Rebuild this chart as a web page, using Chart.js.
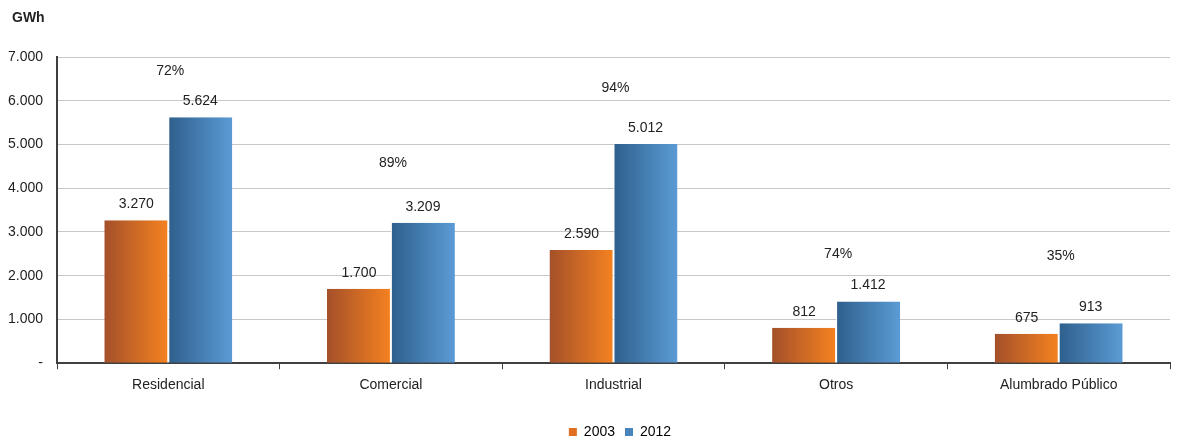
<!DOCTYPE html>
<html>
<head>
<meta charset="utf-8">
<script src="https://cdn.jsdelivr.net/npm/chart.js@4.4.1/dist/chart.umd.min.js"></script>
<style>
  html, body { margin: 0; padding: 0; background: #fff; }
  #wrap { width: 1189px; height: 442px; position: relative; }
</style>
</head>
<body>
<div id="wrap"><canvas id="energyChart"></canvas></div>
<script>
// Consumo de energía por sector, 2003 vs 2012 (GWh)
const categories = ['Residencial', 'Comercial', 'Industrial', 'Otros', 'Alumbrado Público'];
const values2003 = [3270, 1700, 2590, 812, 675];
const values2012 = [5624, 3209, 5012, 1412, 913];
const growthLabels = ['72%', '89%', '94%', '74%', '35%'];
const growthLabelLevel = [6680, 4575, 6290, 2495, 2450];
const yTicks = [0, 1000, 2000, 3000, 4000, 5000, 6000, 7000];

const FONT = "'Liberation Sans', Arial, sans-serif";
const CAT_PCT = 0.575;

function fmt(v) {
    return String(v).replace(/\B(?=(\d{3})+(?!\d))/g, '.');
}

// horizontal gradient on each bar, dark on the left
function barGradient(dark, light) {
    return function(c) {
        const chart = c.chart;
        const xs = chart.scales.x;
        if (!xs || c.dataIndex === undefined) return light;
        const center = xs.getPixelForValue(c.dataIndex);
        const half = (xs.width / categories.length) * CAT_PCT / 2;
        const x0 = c.datasetIndex === 0 ? center - half : center;
        const g = chart.ctx.createLinearGradient(x0, 0, x0 + half, 0);
        g.addColorStop(0, dark);
        g.addColorStop(1, light);
        return g;
    };
}

const labelsPlugin = {
    id: 'labelsPlugin',
    afterUpdate(chart) {
        // nudge the legend right/down like the original
        const lg = chart.legend;
        if (lg) {
            lg.left += 35; lg.right += 35;
            lg.top += 7; lg.bottom += 7;
        }
    },
    afterDatasetsDraw(chart) {
        const ctx = chart.ctx;
        const ys = chart.scales.y;
        const xs = chart.scales.x;
        ctx.save();
        ctx.font = '14px ' + FONT;
        ctx.fillStyle = '#222';
        ctx.textAlign = 'center';
        ctx.textBaseline = 'middle';
        chart.data.datasets.forEach((ds, di) => {
            chart.getDatasetMeta(di).data.forEach((bar, i) => {
                ctx.fillText(fmt(ds.data[i]), bar.x, bar.y - 16);
            });
        });
        growthLabels.forEach((t, i) => {
            ctx.fillText(t, xs.getPixelForValue(i) + 2, ys.getPixelForValue(growthLabelLevel[i]));
        });
        // unit label
        ctx.font = 'bold 14px ' + FONT;
        ctx.textAlign = 'left';
        ctx.fillText('GWh', 12, 18);
        ctx.restore();
    }
};

new Chart(document.getElementById('energyChart'), {
    type: 'bar',
    data: {
        labels: categories,
        datasets: [
            {
                label: '2003',
                data: values2003,
                backgroundColor: barGradient('#a4502a', '#f58220'),
                borderColor: '#ffffff',
                borderWidth: { left: 0, right: 1, top: 0, bottom: 0 },
                categoryPercentage: CAT_PCT,
                barPercentage: 1
            },
            {
                label: '2012',
                data: values2012,
                backgroundColor: barGradient('#2e5f8c', '#5b9bd5'),
                borderColor: '#ffffff',
                borderWidth: { left: 1, right: 0, top: 0, bottom: 0 },
                categoryPercentage: CAT_PCT,
                barPercentage: 1
            }
        ]
    },
    options: {
        responsive: true,
        maintainAspectRatio: false,
        animation: false,
        layout: { padding: { left: 0, right: 19, top: 57, bottom: 0 } },
        plugins: {
            legend: {
                position: 'bottom',
                labels: {
                    font: { family: FONT, size: 14 },
                    color: '#222',
                    boxWidth: 8,
                    boxHeight: 8,
                    padding: 10,
                    generateLabels(chart) {
                        return [
                            { text: '2003', fillStyle: '#e0701f', strokeStyle: '#e0701f', lineWidth: 0, datasetIndex: 0 },
                            { text: '2012', fillStyle: '#4a84bd', strokeStyle: '#4a84bd', lineWidth: 0, datasetIndex: 1 }
                        ];
                    }
                }
            },
            tooltip: { enabled: false }
        },
        scales: {
            x: {
                offset: true,
                afterFit(scale) { scale.height += 6; },
                grid: {
                    offset: true,
                    drawOnChartArea: false,
                    drawTicks: true,
                    tickLength: 6,
                    color: '#404040'
                },
                border: { color: '#404040', width: 2 },
                ticks: {
                    font: { family: FONT, size: 14 },
                    color: '#222',
                    padding: 8
                }
            },
            y: {
                min: 0,
                max: 7000,
                afterBuildTicks(scale) {
                    scale.ticks = yTicks.map(v => ({ value: v }));
                },
                afterFit(scale) { scale.width = 57; },
                grid: { color: '#c8c8c8', lineWidth: 1, drawTicks: false },
                border: { color: '#404040', width: 2 },
                ticks: {
                    font: { family: FONT, size: 14 },
                    color: '#222',
                    padding: 14,
                    callback: v => v === 0 ? '-' : fmt(v)
                }
            }
        }
    },
    plugins: [labelsPlugin]
});
</script>
</body>
</html>
